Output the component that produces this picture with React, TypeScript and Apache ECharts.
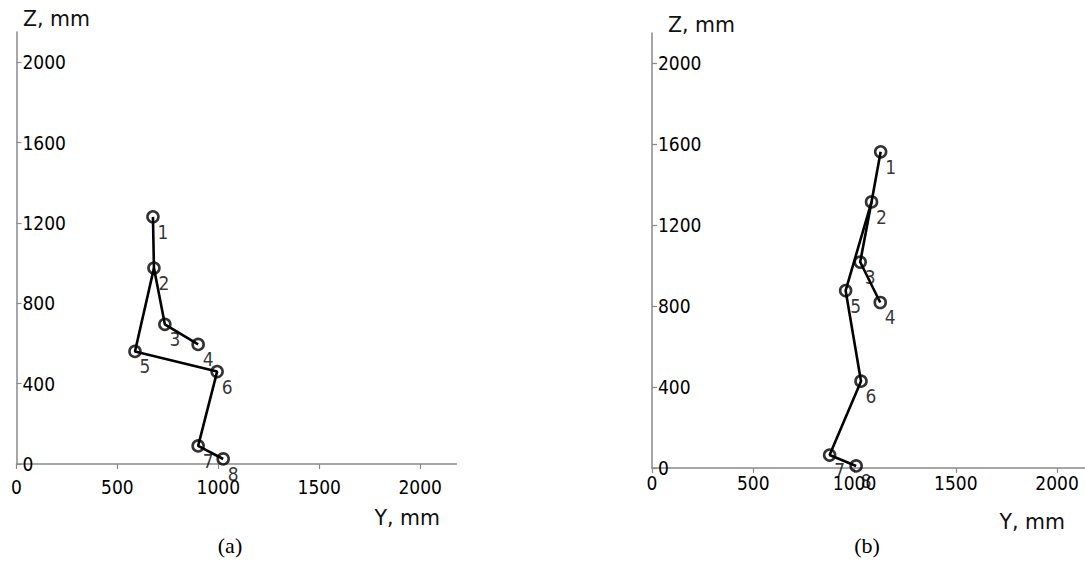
import React, { useEffect, useRef } from "react";
import * as echarts from "echarts";

// Point numbers (joint labels)
const pointLabels = ["1", "2", "3", "4", "5", "6", "7", "8"];

// Chart (a): Y and Z coordinates, mm
const leftY = [676, 681, 735, 900, 587, 994, 900, 1024];
const leftZ = [1230, 975, 695, 595, 560, 460, 90, 25];

// Chart (b): Y and Z coordinates, mm
const rightY = [1129, 1084, 1028, 1127, 956, 1032, 877, 1008];
const rightZ = [1563, 1315, 1018, 818, 877, 429, 64, 10];

// Skeleton connections (point numbers)
const skeletonPaths = [
  [1, 2, 3, 4],
  [2, 5, 6, 7, 8],
];

// Tick labels
const yTicks = [0, 500, 1000, 1500, 2000];
const zTicks = [0, 400, 800, 1200, 1600, 2000];
const axisMaxY = 2180;
const axisMaxZ = 2150;

const TICK_FONT = "'DejaVu Sans Condensed', 'DejaVu Sans', sans-serif";
const TITLE_FONT = "'DejaVu Sans', sans-serif";
const AXIS_COLOR = "#8a8a8a";

function buildAxes(idx: number, xLabelMargin: number) {
  const xAxis = {
    type: "value",
    gridIndex: idx,
    min: 0,
    max: axisMaxY,
    interval: 500,
    axisLine: { show: true, lineStyle: { color: AXIS_COLOR, width: 1.5 } },
    axisTick: {
      show: true,
      length: 5,
      customValues: yTicks,
      lineStyle: { color: AXIS_COLOR, width: 1.2 },
    },
    axisLabel: {
      customValues: yTicks,
      formatter: (v: number) => String(v),
      margin: xLabelMargin,
      fontSize: 19,
      fontFamily: TICK_FONT,
      color: "#000",
    },
    splitLine: { show: false },
  };
  const yAxis = {
    type: "value",
    gridIndex: idx,
    min: 0,
    max: axisMaxZ,
    interval: 400,
    axisLine: { show: true, lineStyle: { color: AXIS_COLOR, width: 1.5 } },
    axisTick: {
      show: true,
      inside: true,
      length: 5,
      customValues: zTicks,
      lineStyle: { color: AXIS_COLOR, width: 1.2 },
    },
    axisLabel: {
      inside: true,
      customValues: zTicks,
      formatter: (v: number) => String(v),
      margin: 6,
      fontSize: 19,
      fontFamily: TICK_FONT,
      color: "#000",
    },
    splitLine: { show: false },
  };
  return { xAxis, yAxis };
}

function buildSeries(idx: number, ys: number[], zs: number[]) {
  const lineSeries = skeletonPaths.map((path) => ({
    type: "line",
    xAxisIndex: idx,
    yAxisIndex: idx,
    data: path.map((p) => [ys[p - 1], zs[p - 1]]),
    symbol: "none",
    lineStyle: { color: "#000", width: 2.6 },
    silent: true,
    z: 2,
  }));
  const scatter = {
    type: "scatter",
    xAxisIndex: idx,
    yAxisIndex: idx,
    data: ys.map((y, i) => [y, zs[i], pointLabels[i]]),
    symbol: "circle",
    symbolSize: 11,
    itemStyle: { color: "rgba(0,0,0,0)", borderColor: "#000", borderWidth: 2.6 },
    label: {
      show: true,
      position: "inside",
      offset: [10, 15],
      formatter: (p: any) => p.data[2],
      fontSize: 19,
      fontFamily: TICK_FONT,
      color: "#000",
      textBorderWidth: 0,
    },
    silent: true,
    z: 3,
  };
  return [...lineSeries, scatter];
}

export default function App() {
  const ref = useRef<HTMLDivElement>(null);

  useEffect(() => {
    document.body.style.margin = "0";
    if (!ref.current) return;
    const chart = echarts.init(ref.current, undefined, { renderer: "svg" });
    const a = buildAxes(0, 13);
    const b = buildAxes(1, 5);
    const titleStyle = { fontSize: 20.5, fontFamily: TITLE_FONT, fill: "#111" };
    const capStyle = { fontSize: 22, fontFamily: "'Liberation Serif', 'Times New Roman', serif", fill: "#000" };
    chart.setOption({
      animation: false,
      backgroundColor: "#fff",
      grid: [
        { left: 16.5, top: 32, width: 440, height: 432, outerBoundsMode: "none" },
        { left: 652, top: 33, width: 441.5, height: 435, outerBoundsMode: "none" },
      ],
      xAxis: [a.xAxis, b.xAxis],
      yAxis: [a.yAxis, b.yAxis],
      series: [...buildSeries(0, leftY, leftZ), ...buildSeries(1, rightY, rightZ)],
      graphic: [
        { type: "text", left: 23, top: 8, style: { ...titleStyle, text: "Z, mm" } },
        { type: "text", right: 1085 - 440, top: 507, style: { ...titleStyle, text: "Y, mm" } },
        { type: "text", left: 668, top: 14, style: { ...titleStyle, text: "Z, mm" } },
        { type: "text", right: 1085 - 1065, top: 511, style: { ...titleStyle, text: "Y, mm" } },
        { type: "text", x: 230, y: 545, style: { ...capStyle, text: "(a)", align: "center", verticalAlign: "middle" } },
        { type: "text", x: 867, y: 545, style: { ...capStyle, text: "(b)", align: "center", verticalAlign: "middle" } },
      ],
    });
    return () => chart.dispose();
  }, []);

  return <div ref={ref} style={{ width: 1085, height: 561 }} />;
}
